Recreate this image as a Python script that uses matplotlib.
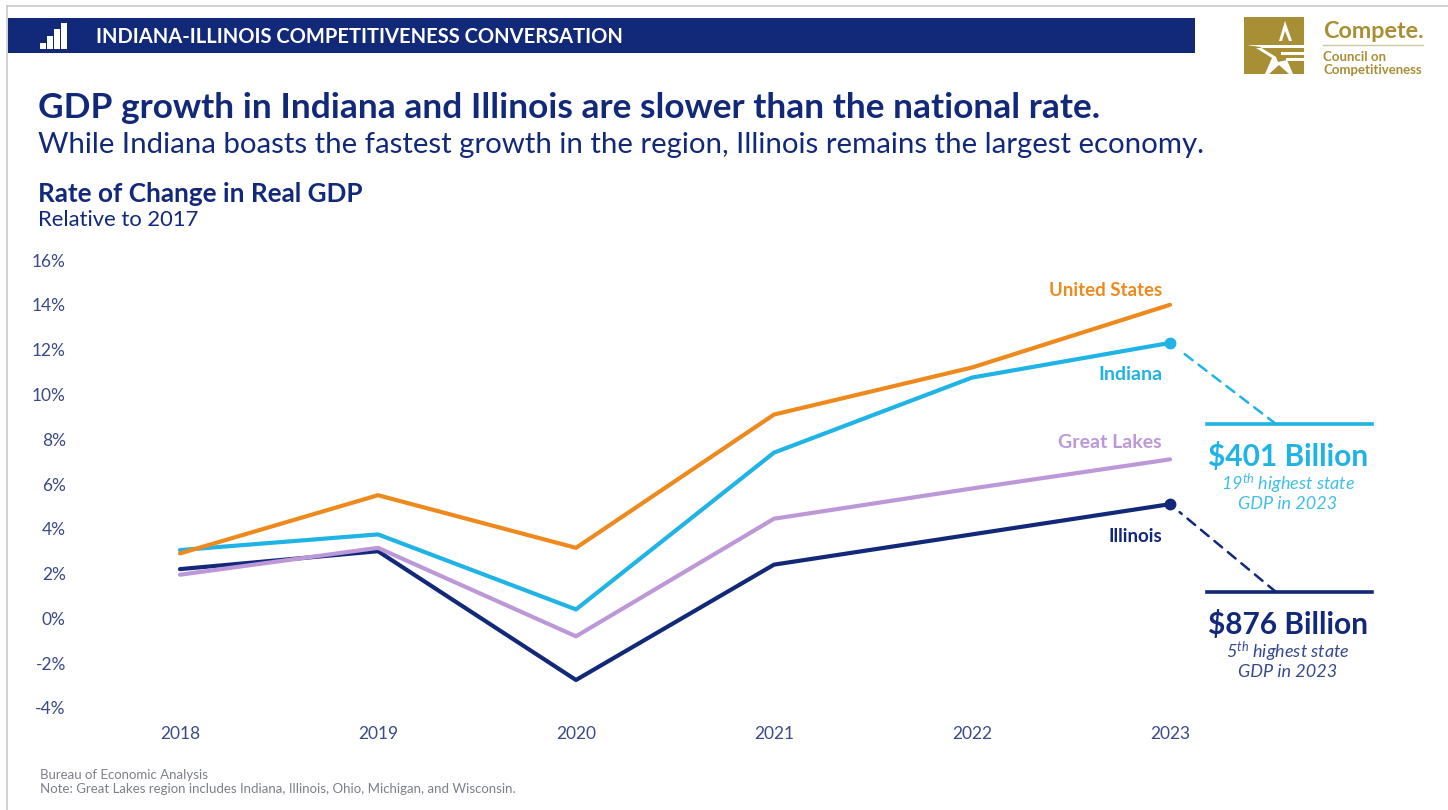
# Real GDP growth slide, Indiana vs Illinois
import matplotlib
matplotlib.use("Agg")
import matplotlib.pyplot as plt
from matplotlib.patches import Rectangle, Polygon

plt.rcParams['font.family'] = ['Lato', 'DejaVu Sans']
plt.rcParams['mathtext.fontset'] = 'custom'
plt.rcParams['mathtext.rm'] = 'Lato:italic'
plt.rcParams['mathtext.it'] = 'Lato:italic'

# Data
years = [2018, 2019, 2020, 2021, 2022, 2023]
us = [2.9, 5.5, 3.15, 9.1, 11.2, 14.0]
indiana = [3.05, 3.75, 0.4, 7.4, 10.75, 12.3]
great_lakes = [1.95, 3.15, -0.8, 4.45, 5.8, 7.1]
illinois = [2.2, 3.0, -2.75, 2.4, 3.75, 5.1]
y_ticks = [-4, -2, 0, 2, 4, 6, 8, 10, 12, 14, 16]
icon_heights = [6, 13, 20, 26]

# Colours
NAVY = '#12297a'
TICK = '#3a4a86'
CYAN = '#1fb3e6'
ORANGE = '#ee8a1d'
LILAC = '#bd98d8'
GOLD = '#a88f35'
GREY = '#7d8087'

W, H = 1448, 810
fig = plt.figure(figsize=(W / 100, H / 100), dpi=100, facecolor='white')

# Full page axes in pixel units, for the slide furniture
page = fig.add_axes([0, 0, 1, 1])
page.set_xlim(0, W)
page.set_ylim(H, 0)
page.axis('off')

# Chart axes: 2018 sits at x=180, 2023 at x=1170, -4% at y=708, 16% at y=260
left, right = 70, 1195
px_per_year = (1170 - 180) / 5
ax = fig.add_axes([left / W, (H - 708) / H, (right - left) / W, (708 - 260) / H])
ax.patch.set_alpha(0)
ax.set_xlim(2018 - (180 - left) / px_per_year, 2023 + (right - 1170) / px_per_year)
ax.set_ylim(-4, 16)
for s in ax.spines.values():
    s.set_visible(False)

ax.plot(years, illinois, color=NAVY, lw=3, solid_capstyle='round')
ax.plot(years, great_lakes, color=LILAC, lw=3, solid_capstyle='round')
ax.plot(years, indiana, color=CYAN, lw=3, solid_capstyle='round')
ax.plot(years, us, color=ORANGE, lw=3, solid_capstyle='round')
ax.plot(years[-1], indiana[-1], 'o', color=CYAN, ms=7.5)
ax.plot(years[-1], illinois[-1], 'o', color=NAVY, ms=7.5)

ax.set_xticks(years)
ax.set_yticks(y_ticks)
ax.set_yticklabels([str(v) + '%' for v in y_ticks])
ax.tick_params(axis='both', length=0, labelsize=12.5, labelcolor=TICK)
ax.tick_params(axis='x', pad=13)
ax.tick_params(axis='y', pad=3)

# Frame and header band
page.plot([7, 7], [H, 6], color='#c9c9c9', lw=1.2)
page.plot([7, W], [6, 6], color='#c9c9c9', lw=1.2)
page.add_patch(Rectangle((8, 18), 1187, 35, color=NAVY, lw=0))
for i, h in enumerate(icon_heights):
    page.add_patch(Rectangle((40 + i * 7, 48.5 - h), 5.5, h, color='white', lw=0))
page.text(96, 37, 'INDIANA-ILLINOIS COMPETITIVENESS CONVERSATION', color='white',
          fontsize=14.5, fontweight='bold', va='center')

# Logo
page.add_patch(Rectangle((1244, 17), 60, 57, color=GOLD, lw=0))
page.add_patch(Polygon([(1285, 21), (1279, 41), (1282, 41), (1285, 31), (1289, 41), (1292, 41)],
                       color='white', lw=0))
page.add_patch(Polygon([(1247, 45), (1304, 45), (1304, 48), (1256, 48), (1272, 58), (1265, 74),
                        (1269, 74), (1279, 65), (1289, 74), (1293, 74), (1287, 60), (1278, 62),
                        (1276, 57), (1260, 47)],
                       color='white', lw=0))
page.add_patch(Polygon([(1281, 52), (1304, 52), (1304, 54.5), (1281, 54.5)], color='white', lw=0))
page.add_patch(Polygon([(1286, 58), (1304, 58), (1304, 60.5), (1286, 60.5)], color='white', lw=0))
page.text(1323, 32, 'Compete.', color=GOLD, fontsize=16.8, fontweight='bold', va='center')
page.plot([1323, 1423], [44.5, 44.5], color='#cfc79f', lw=1)
page.text(1323, 57, 'Council on', color=GOLD, fontsize=9.5, fontweight='bold', va='center')
page.text(1323, 70, 'Competitiveness', color=GOLD, fontsize=9.5, fontweight='bold', va='center')

# Headings
page.text(38, 108, 'GDP growth in Indiana and Illinois are slower than the national rate.',
          color=NAVY, fontsize=25.4, fontweight='bold', va='center')
page.text(38, 145, 'While Indiana boasts the fastest growth in the region, Illinois remains the largest economy.',
          color=NAVY, fontsize=21.2, va='center')
page.text(38, 194, 'Rate of Change in Real GDP', color=NAVY, fontsize=18.8, fontweight='bold', va='center')
page.text(38, 220, 'Relative to 2017', color=NAVY, fontsize=15.8, va='center')

# Series labels
page.text(1162, 290, 'United States', color=ORANGE, fontsize=13.4, fontweight='bold', ha='right', va='center')
page.text(1162, 375, 'Indiana', color=CYAN, fontsize=14, fontweight='bold', ha='right', va='center')
page.text(1162, 442, 'Great Lakes', color=LILAC, fontsize=14, fontweight='bold', ha='right', va='center')
page.text(1162, 537, 'Illinois', color=NAVY, fontsize=13.5, fontweight='bold', ha='right', va='center')

# Callouts tied to the 2023 points
callouts = [
    (indiana[-1], CYAN, 424, '$401 Billion', '19', 457),
    (illinois[-1], NAVY, 592, '$876 Billion', '5', 625),
]
for value, colour, rule_y, amount, rank, amount_y in callouts:
    page.plot([1207, 1372], [rule_y, rule_y], color=colour, lw=2.6)
    ax.annotate('', xy=(years[-1], value), xycoords='data',
                xytext=(1276, rule_y), textcoords=page.transData,
                arrowprops=dict(arrowstyle='-', color=colour, lw=1.8, ls=(0, (4, 3)),
                                shrinkA=0, shrinkB=9))
    page.text(1288, amount_y, amount.replace('$', r'\$'), color=colour, fontsize=21.5, fontweight='bold',
              ha='center', va='center')
    page.text(1288, amount_y + 27, rank + r'$^{\mathrm{th}}$ highest state', color=colour, alpha=0.85,
              fontsize=13, style='italic', ha='center', va='center')
    page.text(1288, amount_y + 47, 'GDP in 2023', color=colour, alpha=0.85,
              fontsize=13, style='italic', ha='center', va='center')

# Source notes
page.text(40, 775, 'Bureau of Economic Analysis', color=GREY, fontsize=9.5, va='center')
page.text(40, 789, 'Note: Great Lakes region includes Indiana, Illinois, Ohio, Michigan, and Wisconsin.',
          color=GREY, fontsize=9.5, va='center')

fig.savefig('out.png', dpi=100)
